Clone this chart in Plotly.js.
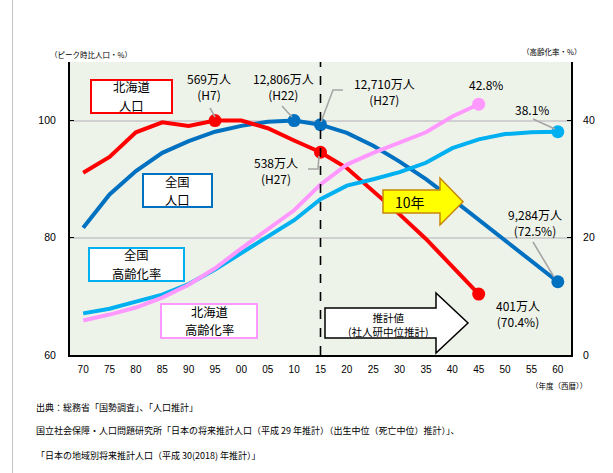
<!DOCTYPE html>
<html><head><meta charset="utf-8">
<script src="https://cdn.plot.ly/plotly-3.0.1.min.js"></script>
<style>
html,body{margin:0;padding:0;background:#fff;}
#wrap{position:relative;width:613px;height:473px;}
#edge{position:absolute;left:12px;top:0;width:1px;height:473px;background:#c4c4c4;z-index:5;}
#chart{width:613px;height:473px;}
</style></head>
<body><div id="wrap"><div id="edge"></div><div id="chart"></div></div>
<script>
// ---- data ----
const years = [1970,1975,1980,1985,1990,1995,2000,2005,2010,2015,2020,2025,2030,2035,2040,2045,2050,2055,2060];
const tickLabels = ['70','75','80','85','90','95','00','05','10','15','20','25','30','35','40','45','50','55','60'];
const hokkaidoYears = years.slice(0,16);
// peak-relative population (%)
const hokkaidoPop = [91.1,93.8,98.0,99.7,99.1,100,100,98.7,96.6,94.6,91.9,88.0,84.0,79.8,75.1,70.4];
const nationalPop = [81.7,87.4,91.4,94.5,96.5,98.1,99.1,99.8,100,99.3,97.9,95.7,93.0,90.0,86.6,83.1,79.6,76.1,72.5];
// aging rate (%)
const nationalAging = [7.1,7.9,9.1,10.3,12.1,14.6,17.4,20.2,23.0,26.6,28.9,30.0,31.2,32.8,35.3,36.8,37.7,38.0,38.1];
const hokkaidoAging = [5.9,6.9,8.1,9.8,12.0,14.8,18.2,21.4,24.7,29.1,32.5,34.5,36.3,38.0,40.7,42.8];
const hokkaidoPopMarks = [1995,2015,2045];
const nationalPopMarks = [2010,2015,2060];
const nationalAgingMarks = [2060];
const hokkaidoAgingMarks = [2045];
const projectionStart = 2015;

// ---- geometry helpers (pixel -> paper) ----
const L=70,R=571,T=62,B=355;
const px = x => (x-L)/(R-L);
const py = y => (B-y)/(B-T);
const JP = '"Noto Sans CJK JP", "Noto Sans", sans-serif';
const NUM = '"Liberation Sans", Arial, sans-serif';

function pick(xs, ys, sel){ return sel.map(v => ys[xs.indexOf(v)]); }

const RED='#ff0000', BLUE='#0070c0', LBLUE='#00b0f0', PINK='#ff99ff';

function line(x, y, color, axis){
  return {x:x, y:y, type:'scatter', mode:'lines', yaxis:axis,
          line:{color:color, width:4}, hoverinfo:'skip', showlegend:false};
}
function marks(sel, xs, ys, color, axis){
  return {x:sel, y:pick(xs, ys, sel), type:'scatter', mode:'markers', yaxis:axis,
          marker:{color:color, size:13}, hoverinfo:'skip', showlegend:false};
}

const traces = [
  line(years, nationalAging, LBLUE, 'y2'),
  line(hokkaidoYears, hokkaidoAging, PINK, 'y2'),
  line(years, nationalPop, BLUE, 'y'),
  line(hokkaidoYears, hokkaidoPop, RED, 'y'),
  marks(nationalAgingMarks, years, nationalAging, LBLUE, 'y2'),
  marks(hokkaidoAgingMarks, hokkaidoYears, hokkaidoAging, PINK, 'y2'),
  marks(nationalPopMarks, years, nationalPop, BLUE, 'y'),
  marks(hokkaidoPopMarks, hokkaidoYears, hokkaidoPop, RED, 'y')
];

// ---- shapes ----
const shapes = [];
function rect(x0,y0,x1,y1,color){
  shapes.push({type:'rect', xref:'paper', yref:'paper', x0:px(x0), x1:px(x1), y0:py(y1), y1:py(y0),
    line:{color:color, width:2}, fillcolor:'#ffffff', layer:'above'});
}
function poly(pts, fill, stroke, w){
  const d = pts.map((p,i)=> (i?'L':'M') + px(p[0]) + ',' + py(p[1])).join(' ') + ' Z';
  shapes.push({type:'path', xref:'paper', yref:'paper', path:d, fillcolor:fill, line:{color:stroke, width:w}, layer:'above'});
}
function leader(pts){
  const d = pts.map((p,i)=> (i?'L':'M') + px(p[0]) + ',' + py(p[1])).join(' ');
  shapes.push({type:'path', xref:'paper', yref:'paper', path:d, line:{color:'#a6a6a6', width:1.6}, layer:'above'});
}
// projection dashed line
shapes.push({type:'line', xref:'x', yref:'paper', x0:projectionStart, x1:projectionStart, y0:0, y1:1,
  line:{color:'#000', width:1.6, dash:'dash'}, layer:'above'});
// legend boxes
rect(91,80,172,113,RED);
rect(143,174,212,207,BLUE);
rect(89,248,184,281,LBLUE);
rect(161,304,257,338,PINK);
// arrows
poly([[383,190],[440,190],[440,178],[463,201.7],[440,225],[440,213],[383,213]], '#ffff00', '#c8860a', 1.5);
poly([[325,308],[436,308],[436,293],[468,323],[436,353],[436,338],[325,338]], '#ffffff', '#000000', 1.5);
// leader lines
leader([[210,108],[215,117]]);
leader([[282,106],[292,117]]);
leader([[343,90],[333,90],[321,122]]);
leader([[308,169],[318,169],[319,156]]);
leader([[533,119],[555,129]]);
leader([[533,242],[554,277]]);

// ---- annotations ----
const ann = [];
function txt(x, y, s, size, opts){
  ann.push(Object.assign({xref:'paper', yref:'paper', x:px(x), y:py(y), text:s, showarrow:false,
    xanchor:'center', yanchor:'middle', font:{family:JP, size:size, color:'#000'}}, opts||{}));
}
// box labels (one annotation per line)
const BF = 12.3;
txt(131.5,87.5,'北海道',BF);
txt(131.5,105.5,'人口',BF);
txt(177.5,181.5,'全国',BF);
txt(177.5,199.5,'人口',BF);
txt(136.5,255.5,'全国',BF);
txt(136.5,273.5,'高齢化率',BF);
txt(209,312,'北海道',BF);
txt(209,330,'高齢化率',BF);
// value labels
txt(209,86,'569万人<br>(H7)',12);
txt(283,86,'12,806万人<br>(H22)',12);
txt(384,91,'12,710万人<br>(H27)',12);
txt(276,170,'538万人<br>(H27)',12);
txt(486,84,'42.8%',12);
txt(532,109,'38.1%',12);
txt(535,222,'9,284万人<br>(72.5%)',12);
txt(518,313.5,'401万人<br>(70.4%)',12);
// arrows text
txt(410,202,'10年',14);
txt(388,324,'推計値<br>(社人研中位推計)',10.5);
// axis unit labels
txt(48,54,'（ピーク時比人口・%）',7.5,{xanchor:'left'});
txt(583,52,'（高齢化率・%）',7.5,{xanchor:'right'});
txt(589,385,'（年度（西暦））',7.5,{xanchor:'right'});
// source notes
txt(34,407,'出典：総務省「国勢調査」、「人口推計」',9,{xanchor:'left'});
txt(34,431,'国立社会保障・人口問題研究所「日本の将来推計人口（平成 29 年推計）（出生中位（死亡中位）推計）」、',9,{xanchor:'left'});
txt(34,455,'「日本の地域別将来推計人口（平成 30(2018) 年推計）」',9,{xanchor:'left'});

const layout = {
  width:613, height:473,
  margin:{l:L, r:613-R, t:T, b:473-B, pad:0},
  paper_bgcolor:'#ffffff', plot_bgcolor:'#eef3ea',
  showlegend:false,
  xaxis:{range:[1967.5,2062.5], tickvals:years, ticktext:tickLabels, showgrid:false, zeroline:false,
    showline:true, linecolor:'#000', linewidth:2, ticks:'', ticklabelstandoff:4,
    tickfont:{family:NUM, size:10, color:'#000'}, fixedrange:true},
  yaxis:{range:[60,110], tickvals:[60,80,100], ticktext:['60','80','100'], showgrid:true,
    gridcolor:'#d0d0d0', gridwidth:2, zeroline:false, showline:true, linecolor:'#000', linewidth:2,
    ticks:'inside', ticklen:4, tickcolor:'#000', ticklabelstandoff:10,
    tickfont:{family:NUM, size:10.5, color:'#000'}, fixedrange:true},
  yaxis2:{range:[0,50], overlaying:'y', side:'right', tickvals:[0,20,40], ticktext:['0','20','40'],
    showgrid:false, zeroline:false, showline:true, linecolor:'#000', linewidth:2,
    ticks:'inside', ticklen:4, tickcolor:'#000', ticklabelstandoff:8,
    tickfont:{family:NUM, size:10.5, color:'#000'}, fixedrange:true},
  shapes:shapes, annotations:ann
};
Plotly.newPlot('chart', traces, layout, {staticPlot:true, displayModeBar:false});
</script>
</body></html>
